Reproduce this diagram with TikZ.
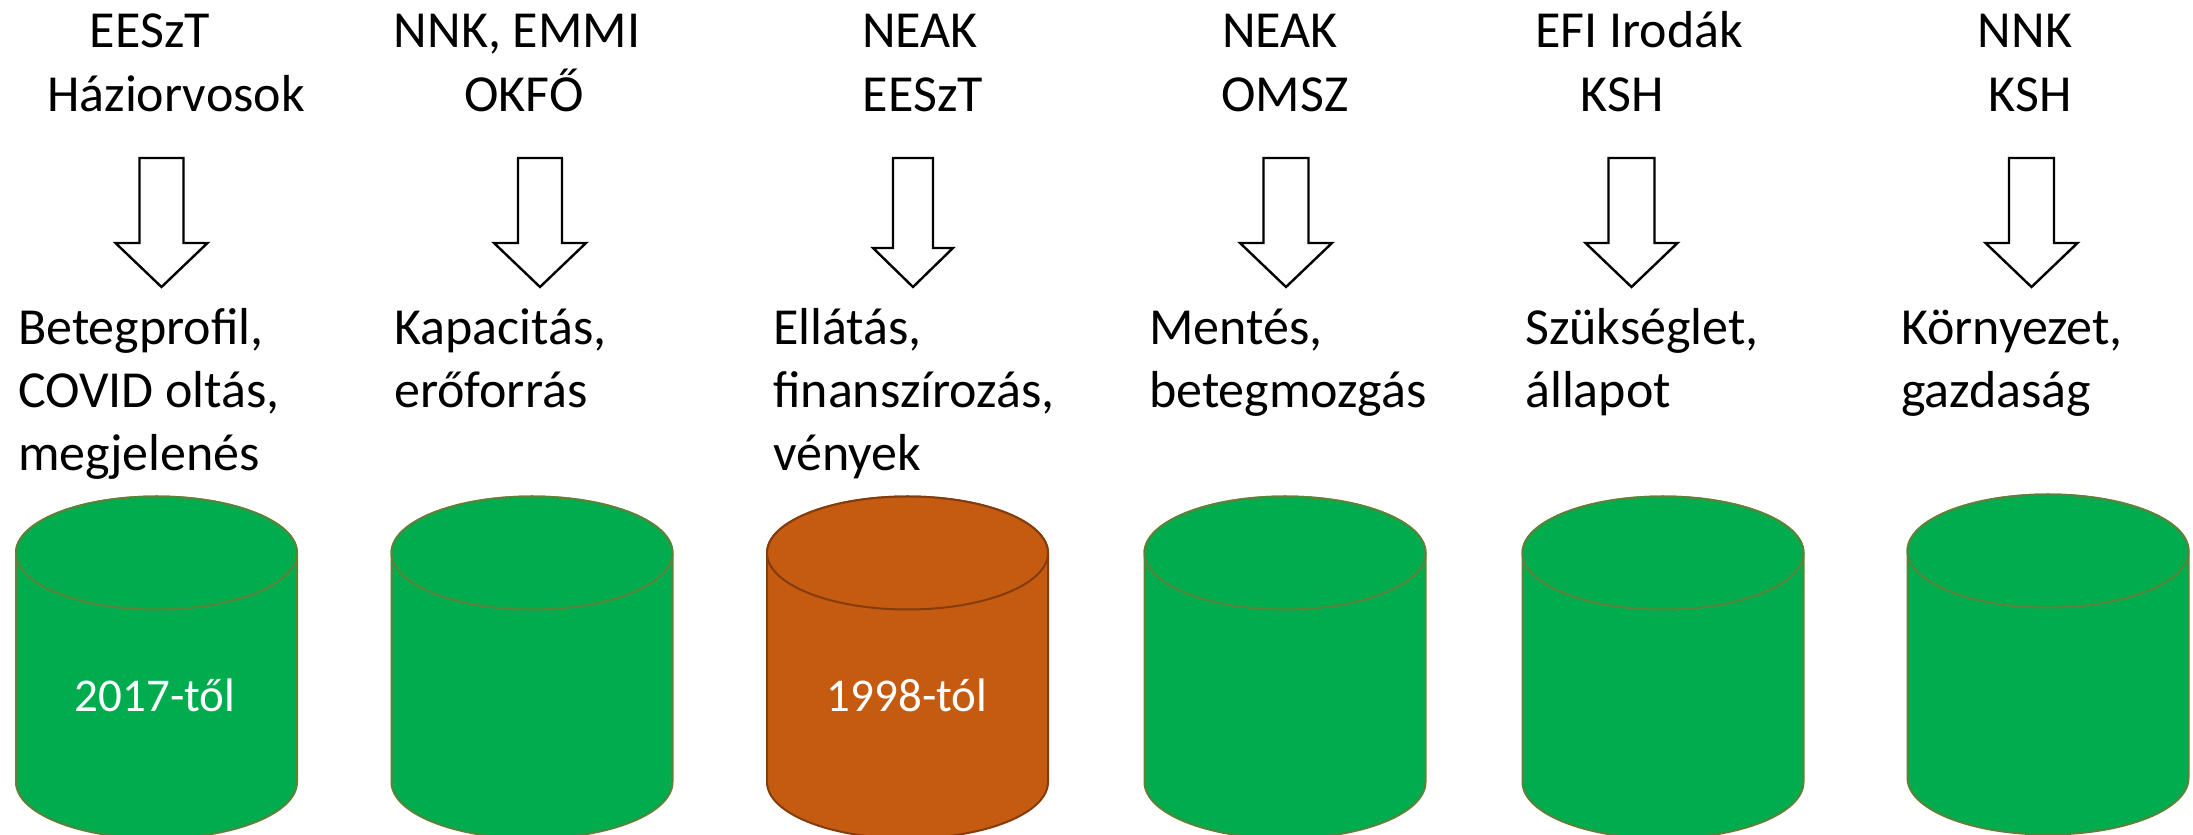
\documentclass[tikz,border=0pt]{standalone}
\usepackage{fontspec}
\setmainfont{Carlito}
\definecolor{dbgreen}{HTML}{00AC4E}
\definecolor{dbgreenline}{HTML}{5B8238}
\definecolor{dborange}{HTML}{C55A11}
\definecolor{dborangeline}{HTML}{843C0C}

% block arrow pointing down: centre x, half shaft width, half head width, head y
\newcommand\downblock[4]{%
  \draw[blockarrow] ({#1-#2},677) -- ({#1-#2},#4) -- ({#1-#3},#4) -- (#1,548)
    -- ({#1+#3},#4) -- ({#1+#2},#4) -- ({#1+#2},677) -- cycle;}

% database drum: centre x, top-ellipse centre y, bottom-ellipse centre y, style
\newcommand\drum[4]{%
  \path[#4] ({#1-140.5},#2) -- ({#1-140.5},#3) arc[start angle=180,end angle=360,x radius=140.5,y radius=56.5]
    -- ({#1+140.5},#2) arc[start angle=0,end angle=180,x radius=140.5,y radius=56.5] -- cycle;
  \path[#4] (#1,#2) ellipse[x radius=140.5,y radius=56.5];}

\begin{document}
\begin{tikzpicture}[x=1pt,y=1pt,
  txt/.style={inner sep=0pt,font=\fontsize{52}{64}\selectfont,anchor=base},
  itm/.style={inner sep=0pt,font=\fontsize{52}{64}\selectfont,anchor=base west},
  inlbl/.style={inner sep=0pt,font=\fontsize{47}{56}\selectfont,anchor=base,text=white},
  blockarrow/.style={draw=black,fill=white,line width=2.4pt,line join=miter},
  greendrum/.style={fill=dbgreen,draw=dbgreenline,line width=2pt},
  orangedrum/.style={fill=dborange,draw=dborangeline,line width=2pt}]
\useasboundingbox (0,0) rectangle (2193,835);
\fill[white] (0,0) rectangle (2193,835);
\clip (0,0) rectangle (2193,835);

% sources
\node[txt] (h1a) at (150,787) {EESzT};
\node[txt] (h1b) at (176,723) {Háziorvosok};
\node[txt] (h2a) at (517,787) {NNK, EMMI};
\node[txt] (h2b) at (524,723) {OKFŐ};
\node[txt] (h3a) at (920,787) {NEAK};
\node[txt] (h3b) at (923,723) {EESzT};
\node[txt] (h4a) at (1280,787) {NEAK};
\node[txt] (h4b) at (1285,723) {OMSZ};
\node[txt] (h5a) at (1639,787) {EFI Irodák};
\node[txt] (h5b) at (1622,723) {KSH};
\node[txt] (h6a) at (2025,787) {NNK};
\node[txt] (h6b) at (2030,723) {KSH};

% arrows
\downblock{161.5}{22}{46}{592}
\downblock{540}{22}{46}{592}
\downblock{913}{20}{40}{587}
\downblock{1286}{22.5}{46}{592}
\downblock{1631.5}{23}{46}{592}
\downblock{2031.5}{22.5}{46}{592}

% data content
\node[itm] (t1a) at (18,490) {Betegprofil,};
\node[itm] (t1b) at (18,427) {COVID oltás,};
\node[itm] (t1c) at (18,364) {megjelenés};
\node[itm] (t2a) at (394,490) {Kapacitás,};
\node[itm] (t2b) at (394,427) {erőforrás};
\node[itm] (t3a) at (773,490) {Ellátás,};
\node[itm] (t3b) at (773,427) {finanszírozás,};
\node[itm] (t3c) at (773,364) {vények};
\node[itm] (t4a) at (1149,490) {Mentés,};
\node[itm] (t4b) at (1149,427) {betegmozgás};
\node[itm] (t5a) at (1525,490) {Szükséglet,};
\node[itm] (t5b) at (1525,427) {állapot};
\node[itm] (t6a) at (1901,490) {Környezet,};
\node[itm] (t6b) at (1901,427) {gazdaság};

% databases
\drum{156.5}{282}{53}{greendrum}
\drum{532}{282}{53}{greendrum}
\drum{907.5}{282}{53}{orangedrum}
\drum{1285}{282}{53}{greendrum}
\drum{1663}{282}{53}{greendrum}
\drum{2048}{284}{57}{greendrum}
\node[inlbl] (d1) at (155,123) {2017-től};
\node[inlbl] (d3) at (907,123) {1998-tól};
\end{tikzpicture}
\end{document}
